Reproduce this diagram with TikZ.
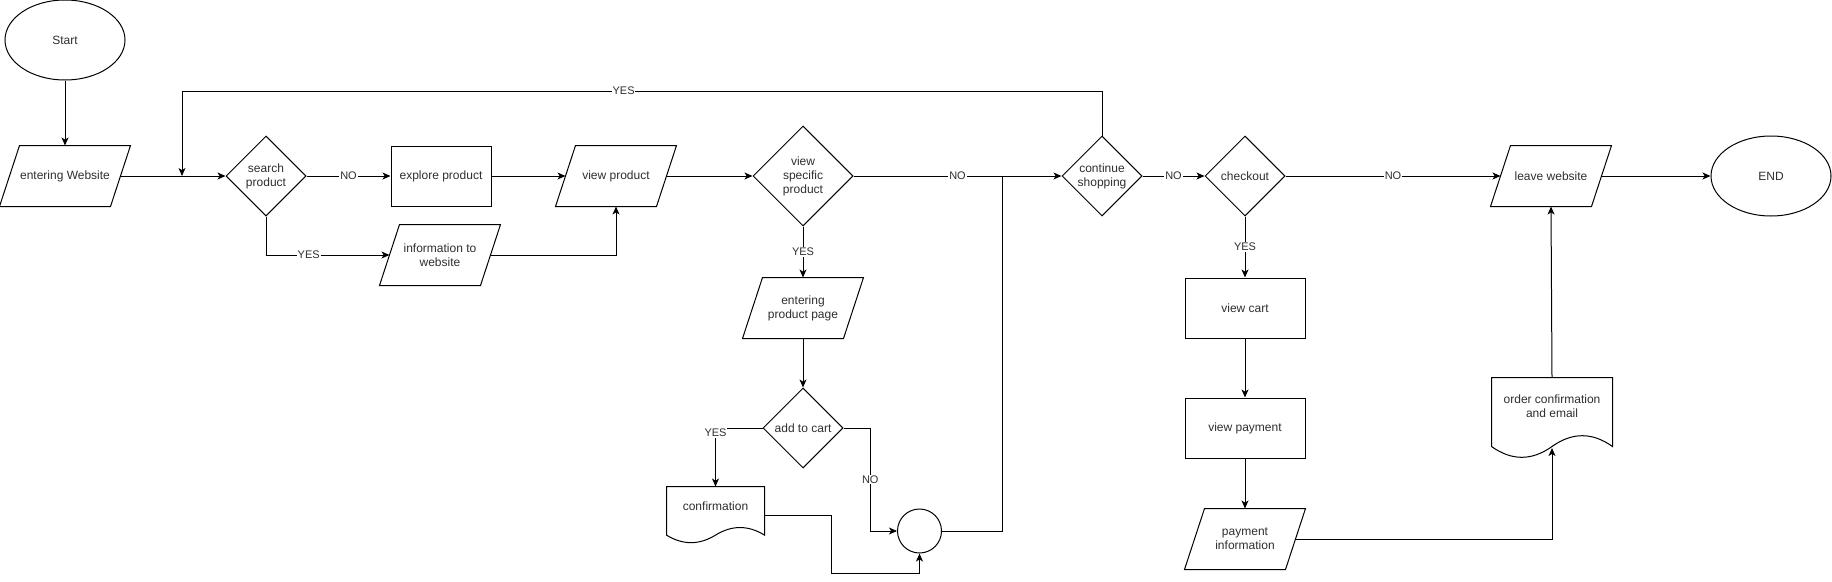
\documentclass[tikz,border=0pt]{standalone}
\usepackage{fontspec}
\setmainfont{Liberation Sans}
\usetikzlibrary{shapes.geometric,arrows.meta,calc}
\def\u{0.75pt}
\tikzset{
  base/.style={inner sep=0pt, align=center, font=\fontsize{9}{10.5}\selectfont, text=black!82, line width=0.75pt},
  term/.style={base, draw, ellipse, minimum width=120*\u, minimum height=80*\u},
  proc/.style={base, draw, rectangle, minimum width=#1*\u, minimum height=60*\u},
  dec/.style={base, draw, diamond, minimum width=#1*\u, minimum height=#1*\u},
  io/.style={base, rectangle, minimum width=#1*\u, minimum height=60*\u,
    append after command={\pgfextra{\draw[line width=0.75pt]
      ([xshift=10*\u]\tikzlastnode.north west) -- ([xshift=10*\u]\tikzlastnode.north east) --
      ([xshift=-10*\u]\tikzlastnode.south east) -- ([xshift=-10*\u]\tikzlastnode.south west) -- cycle;}}},
  docbox/.style={base, rectangle},
  conn/.style={base, draw, circle, minimum size=44*\u},
  line/.style={line width=0.75pt},
  arr/.style={line, -{Stealth[length=6pt,width=5.2pt,inset=1.6pt]}},
  lbl/.style={fill=white, inner sep=0.6pt, font=\fontsize{8.25}{9}\selectfont, text=black!82},
}
% document shape: #1 node name (text area w x (h-dy)), #2 dy in px
\newcommand\docshape[2]{%
  \draw[line] (#1.north west) -- (#1.north east) -- ($(#1.south east)+(0,0.5*#2)$)
    .. controls ($(#1.south east)!1/6!(#1.south west)+(0,-0.1*#2)$)
       and ($(#1.south east)!1/3!(#1.south west)+(0,-0.1*#2)$)
    .. ($(#1.south)+(0,0.5*#2)$)
    .. controls ($(#1.south east)!2/3!(#1.south west)+(0,1.1*#2)$)
       and ($(#1.south east)!5/6!(#1.south west)+(0,1.1*#2)$)
    .. ($(#1.south west)+(0,0.5*#2)$) -- cycle;}
\begin{document}
\begin{tikzpicture}[x=0.75pt,y=-0.75pt]
\useasboundingbox (0,0) rectangle (1832,582);

% nodes
\node[term] (start) at (65,40) {Start};
\node[io=110] (ew) at (65,176) {entering Website};
\node[dec=80] (sp) at (266,176) {search\\product};
\node[proc=100] (ep) at (441,176) {explore product};
\node[io=100] (vp) at (616,176) {view product};
\node[io=100] (iw) at (440,255) {information to\\website};
\node[dec=100] (vsp) at (803,176) {view\\specific\\product};
\node[io=100] (epp) at (803,308) {entering\\product page};
\node[dec=80] (atc) at (803,428) {add to cart};
\node[docbox, minimum width=97*\u, minimum height=39.2*\u] (conf) at (715.5,506.6) {confirmation};
\node[conn] (circ) at (919.5,531) {};
\node[dec=80] (cs) at (1102,176) {continue\\shopping};
\node[dec=80] (co) at (1245,176) {checkout};
\node[proc=120] (vc) at (1245,308) {view cart};
\node[proc=120] (vpay) at (1245,428) {view payment};
\node[io=100] (pi) at (1245,539) {payment\\information};
\node[docbox, minimum width=120*\u, minimum height=56*\u] (oc) at (1552,406) {order confirmation\\and email};
\node[io=100] (lw) at (1551,176) {leave website};
\node[term] (end) at (1771,176) {END};

\docshape{conf}{16.8}
\docshape{oc}{24}

% waypoints
\coordinate (t1) at (1102,91);
\coordinate (t2) at (182,91);
\coordinate (j0) at (182,176);
\coordinate (j1) at (1002,176);
\coordinate (w1) at (831,573);
\coordinate (confR) at (764,515);
\coordinate (ocB) at (1552,448);

% connectors
\draw[arr] (start) -- (ew);
\draw[arr] (ew) -- (sp);
\draw[arr] (sp) -- node[lbl]{NO} (ep);
\draw[arr] (ep) -- (vp);
\draw[arr] (sp.south) |- node[lbl, pos=0.673]{YES} (iw.west);
\draw[arr] (iw.east) -| (vp.south);
\draw[arr] (vp) -- (vsp);
\draw[arr] (vsp) -- node[lbl]{NO} (cs);
\draw[arr] (vsp) -- node[lbl]{YES} (epp);
\draw[arr] (epp) -- (atc);
\draw[arr] (atc.west) -| node[lbl, pos=0.542]{YES} (conf.north);
\draw[arr] (atc.east) -| ($(atc.east)!.5!(circ.west)$) node[lbl]{NO} |- (circ.west);
\draw[arr] (confR) -| (w1) -| (circ.south);
\draw[line] (circ.east) -| (j1);
\draw[arr] (cs.north) -- (t1) -- node[lbl, pos=0.52]{YES} (t2) -- (j0);
\draw[arr] (cs) -- node[lbl]{NO} (co);
\draw[arr] (co) -- node[lbl]{NO} (lw);
\draw[arr] (co) -- node[lbl]{YES} (vc);
\draw[arr] (vc) -- (vpay);
\draw[arr] (vpay) -- (pi);
\draw[arr] (pi.east) -| (ocB);
\draw[arr] (oc.north) -- (lw.south);
\draw[arr] (lw) -- (end);
\end{tikzpicture}
\end{document}
